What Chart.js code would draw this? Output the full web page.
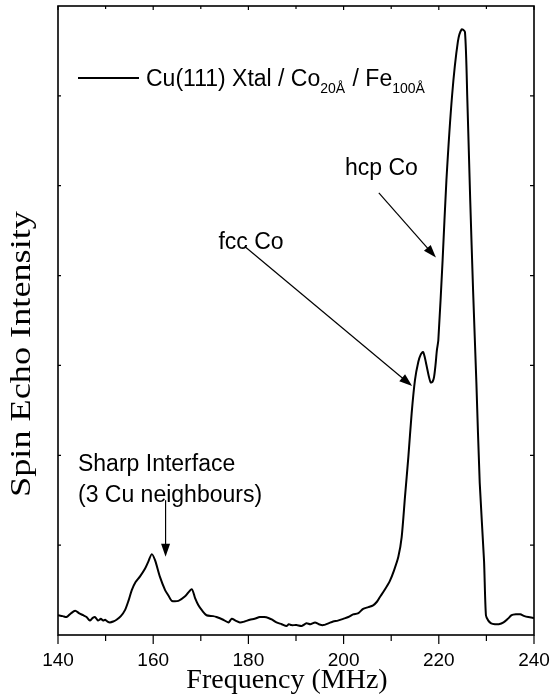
<!DOCTYPE html>
<html>
<head>
<meta charset="utf-8">
<script src="https://cdn.jsdelivr.net/npm/chart.js@4.4.0/dist/chart.umd.min.js"></script>
<style>
  html, body { margin: 0; padding: 0; background: #fff; }
</style>
</head>
<body>
<canvas id="nmr" width="551" height="700"></canvas>
<script>
// Spectrum (frequency in MHz, intensity in arb. units 0..7)
const freq = [
  140.0, 141.0, 141.8, 142.7, 143.6, 144.5, 145.3, 146.0, 146.7, 147.3,
  147.8, 148.4, 149.0, 149.5, 149.9, 150.4, 150.9, 151.6, 152.3, 153.2,
  154.1, 154.8, 155.5, 156.3, 157.2, 158.3, 159.0, 159.7, 160.4, 161.4,
  162.5, 163.2, 163.9, 165.3, 166.7, 168.1, 168.8, 169.5, 170.3, 171.2,
  172.6, 173.3, 174.7, 175.8, 176.5, 177.3, 178.2, 179.2, 180.3, 181.3,
  182.4, 183.3, 184.2, 185.0, 185.9, 187.0, 188.0, 188.5, 189.0, 190.1,
  191.2, 192.2, 193.0, 194.0, 194.8, 195.7, 196.8, 197.8, 198.8, 199.9,
  201.0, 202.0, 203.0, 204.1, 205.2, 206.2, 207.0, 207.6, 208.6, 209.7,
  210.6, 211.5, 212.2, 212.9, 213.6, 214.3, 215.0, 215.7, 216.2, 216.7,
  217.1, 217.5, 217.9, 218.3, 218.7, 219.0, 219.3, 219.6, 219.9, 220.8,
  221.6, 222.8, 224.0, 224.8, 225.5, 226.0, 226.6, 227.2, 227.9, 228.6,
  229.5, 229.9, 230.4, 231.0, 231.8, 232.6, 233.6, 234.5, 235.3, 236.2,
  237.1, 238.0, 238.8, 240.0
];
const intensity = [
  0.22, 0.21, 0.20, 0.24, 0.27, 0.24, 0.22, 0.20, 0.16, 0.19,
  0.20, 0.16, 0.18, 0.16, 0.17, 0.15, 0.14, 0.15, 0.17, 0.21,
  0.28, 0.38, 0.50, 0.59, 0.65, 0.74, 0.82, 0.90, 0.83, 0.65,
  0.50, 0.44, 0.38, 0.38, 0.43, 0.51, 0.41, 0.33, 0.27, 0.22,
  0.21, 0.20, 0.17, 0.14, 0.18, 0.16, 0.14, 0.15, 0.17, 0.18,
  0.20, 0.20, 0.19, 0.17, 0.14, 0.12, 0.10, 0.12, 0.11, 0.11,
  0.10, 0.13, 0.12, 0.14, 0.12, 0.11, 0.13, 0.15, 0.16, 0.18,
  0.20, 0.23, 0.24, 0.29, 0.31, 0.33, 0.37, 0.42, 0.50, 0.60,
  0.72, 0.87, 1.09, 1.54, 1.98, 2.47, 2.84, 3.04, 3.12, 3.15,
  3.08, 2.98, 2.88, 2.81, 2.82, 2.87, 3.00, 3.17, 3.28, 4.17,
  5.06, 6.01, 6.60, 6.74, 6.71, 5.95, 4.84, 3.84, 2.80, 1.69,
  0.83, 0.22, 0.16, 0.13, 0.12, 0.12, 0.14, 0.18, 0.22, 0.23,
  0.23, 0.21, 0.20, 0.19
];
const xMajor = [140, 160, 180, 200, 220, 240];
const xMinor = [150, 170, 190, 210, 230];
const yMajor = [1, 2, 3, 4, 5, 6];

const sans = '"Liberation Sans", Arial, sans-serif';
const serif = '"Liberation Serif", "Times New Roman", serif';

// Text labels and arrows, anchored in data coordinates
const notes = [
  { text: 'hcp Co', x: 200.3, y: 5.12 },
  { text: 'fcc Co', x: 173.7, y: 4.3 },
  { text: 'Sharp Interface', x: 144.2, y: 1.82 },
  { text: '(3 Cu neighbours)', x: 144.2, y: 1.48 }
];
const arrows = [
  { from: [207.4, 4.92], to: [219.4, 4.2] },
  { from: [179.3, 4.32], to: [214.4, 2.77] },
  { from: [162.6, 1.50], to: [162.6, 0.87] }
];

function arrow(ctx, x1, y1, x2, y2) {
  const a = Math.atan2(y2 - y1, x2 - x1);
  const len = 13, half = 4.5;
  ctx.beginPath();
  ctx.moveTo(x1, y1);
  ctx.lineTo(x2 - Math.cos(a) * len * 0.8, y2 - Math.sin(a) * len * 0.8);
  ctx.stroke();
  ctx.beginPath();
  ctx.moveTo(x2, y2);
  ctx.lineTo(x2 - Math.cos(a) * len + Math.sin(a) * half, y2 - Math.sin(a) * len - Math.cos(a) * half);
  ctx.lineTo(x2 - Math.cos(a) * len - Math.sin(a) * half, y2 - Math.sin(a) * len + Math.cos(a) * half);
  ctx.closePath();
  ctx.fill();
}

// Frame, inward ticks, legend, notes and axis titles
const decor = {
  id: 'decor',
  afterDatasetsDraw(chart) {
    const { ctx, chartArea: ca, scales: { x, y } } = chart;
    ctx.save();
    ctx.strokeStyle = '#000';
    ctx.fillStyle = '#000';
    ctx.lineWidth = 1.6;
    ctx.strokeRect(ca.left, ca.top, ca.right - ca.left, ca.bottom - ca.top);

    ctx.lineWidth = 1.2;
    ctx.beginPath();
    xMajor.forEach(v => {
      const px = x.getPixelForValue(v);
      ctx.moveTo(px, ca.bottom); ctx.lineTo(px, ca.bottom + 9);
      ctx.moveTo(px, ca.top); ctx.lineTo(px, ca.top + 4);
    });
    xMinor.forEach(v => {
      const px = x.getPixelForValue(v);
      ctx.moveTo(px, ca.bottom); ctx.lineTo(px, ca.bottom + 6);
      ctx.moveTo(px, ca.top); ctx.lineTo(px, ca.top + 3);
    });
    yMajor.forEach(v => {
      const py = y.getPixelForValue(v);
      ctx.moveTo(ca.left, py); ctx.lineTo(ca.left + 3, py);
      ctx.moveTo(ca.right, py); ctx.lineTo(ca.right - 4, py);
    });
    ctx.stroke();

    // legend
    ctx.lineWidth = 2;
    ctx.beginPath();
    ctx.moveTo(78, 78); ctx.lineTo(139, 78);
    ctx.stroke();
    ctx.textBaseline = 'alphabetic';
    ctx.textAlign = 'left';
    let lx = 146;
    const parts = [['Cu(111) Xtal / Co', false], ['20Å', true], [' / Fe', false], ['100Å', true]];
    parts.forEach(([t, sub]) => {
      ctx.font = sub ? '14px ' + sans : '23px ' + sans;
      ctx.fillText(t, lx, sub ? 93 : 86);
      lx += ctx.measureText(t).width + (sub ? 1 : 0);
    });

    ctx.font = '23px ' + sans;
    notes.forEach(n => ctx.fillText(n.text, x.getPixelForValue(n.x), y.getPixelForValue(n.y)));

    ctx.lineWidth = 1.2;
    arrows.forEach(a => arrow(ctx,
      x.getPixelForValue(a.from[0]), y.getPixelForValue(a.from[1]),
      x.getPixelForValue(a.to[0]), y.getPixelForValue(a.to[1])));

    // axis titles
    ctx.font = '28px ' + serif;
    ctx.textAlign = 'center';
    ctx.textBaseline = 'middle';
    ctx.fillText('Frequency (MHz)', 287, 681);
    ctx.translate(22, 354);
    ctx.rotate(-Math.PI / 2);
    ctx.scale(1.25, 1);
    ctx.font = '29px ' + serif;
    ctx.fillText('Spin Echo Intensity', 0, 0);
    ctx.restore();
  }
};

new Chart(document.getElementById('nmr'), {
  type: 'line',
  data: {
    datasets: [{
      data: freq.map((f, i) => ({ x: f, y: intensity[i] })),
      borderColor: '#000',
      borderWidth: 2,
      pointRadius: 0,
      tension: 0.25,
      fill: false
    }]
  },
  options: {
    responsive: false,
    animation: false,
    devicePixelRatio: 1,
    layout: { padding: { top: 6, right: 17, left: 0, bottom: 0 } },
    plugins: { legend: { display: false }, tooltip: { enabled: false } },
    scales: {
      x: {
        type: 'linear', min: 140, max: 240,
        ticks: { stepSize: 20, color: '#000', font: { family: sans, size: 19 }, padding: 14, maxRotation: 0 },
        grid: { display: false, drawTicks: false, tickLength: 0 },
        border: { display: false },
        afterFit: s => { s.height = 65; s.paddingLeft = 0; s.paddingRight = 0; }
      },
      y: {
        min: 0, max: 7,
        ticks: { display: false },
        grid: { display: false, drawTicks: false },
        border: { display: false },
        afterFit: s => { s.width = 58; }
      }
    }
  },
  plugins: [decor]
});
</script>
</body>
</html>
